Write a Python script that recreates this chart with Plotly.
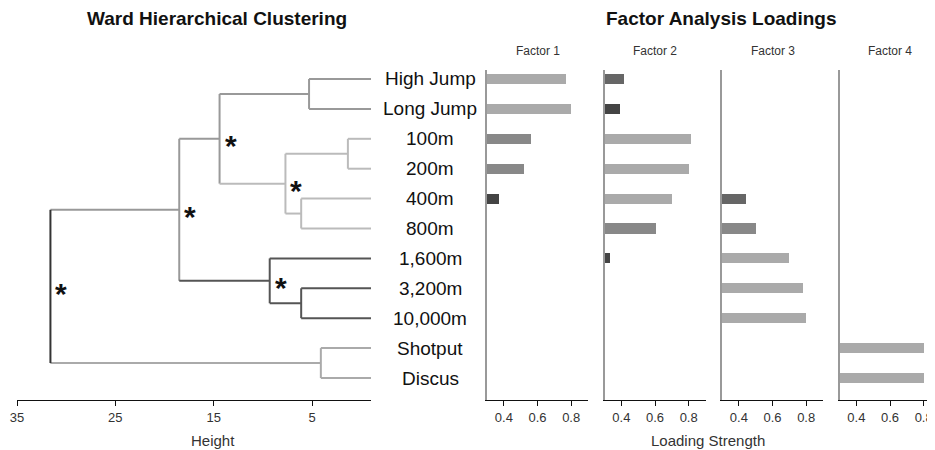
import plotly.graph_objects as go

# ---------------- data ----------------
events = ["High Jump", "Long Jump", "100m", "200m", "400m", "800m",
          "1,600m", "3,200m", "10,000m", "Shotput", "Discus"]

# Ward merges: (child_a, child_b, height); leaves are 0..10, merges numbered 11..
merge_a = [0, 2, 4, 12, 11, 7, 6, 15, 9, 18]
merge_b = [1, 3, 5, 13, 14, 8, 16, 17, 10, 19]
merge_h = [5.3, 1.35, 6.1, 7.7, 14.4, 6.1, 9.3, 18.5, 4.1, 31.6]
# merges marked significant (*)
merge_star = [False, False, False, True, True, False, True, True, False, True]

height_ticks = [35, 25, 15, 5]

factor1 = [0.77, 0.80, 0.56, 0.52, 0.37, None, None, None, None, None, None]
factor2 = [0.41, 0.39, 0.81, 0.80, 0.70, 0.60, 0.33, None, None, None, None]
factor3 = [None, None, None, None, 0.44, 0.50, 0.70, 0.78, 0.80, None, None]
factor4 = [None, None, None, None, None, None, None, None, None, 0.80, 0.80]
factor_names = ["Factor 1", "Factor 2", "Factor 3", "Factor 4"]
loading_ticks = [0.4, 0.6, 0.8]

# ---------------- styles ----------------
WIN_W = 935
OFF = 8  # page body margin: figure origin sits at (8, 8) in the window
W, H = WIN_W - OFF, 442
C_MID, C_LIGHT, C_DARK, C_THROW, C_ROOT = "#999999", "#bbbbbb", "#555555", "#aaaaaa", "#333333"
leaf_color = [C_MID, C_MID, C_LIGHT, C_LIGHT, C_LIGHT, C_LIGHT,
              C_DARK, C_DARK, C_DARK, C_THROW, C_THROW]
merge_color = [C_MID, C_LIGHT, C_LIGHT, C_LIGHT, C_MID, C_DARK, C_DARK, C_MID, C_THROW, C_ROOT]
FONT = "Liberation Sans, Arial"


def bar_color(v):
    if v >= 0.69:
        return "#aaaaaa"
    if v >= 0.5:
        return "#888888"
    if v >= 0.4:
        return "#666666"
    return "#444444"


def px_x(p):
    return min(max((p - OFF) / W, 0.0), 1.0)


def px_y(p):
    return min(max(1 - (p - OFF) / H, 0.0), 1.0)


# row i sits at window pixel 79 + 29.9*i ; plot band 70..400 px
ROW0, ROWSTEP, TOP, BOT = 79, 29.9, 70, 400
y_range = [(BOT - ROW0) / ROWSTEP, (TOP - ROW0) / ROWSTEP]
y_dom = [px_y(BOT), px_y(TOP)]
LEAF_END = -1  # leaves reach the right end of the height axis

# ---------------- dendrogram geometry ----------------
n = len(events)
node_y = list(range(n)) + [None] * len(merge_h)
node_h = [LEAF_END] * n + merge_h
node_c = leaf_color + merge_color
parent = [None] * (n + len(merge_h))
for k, (a, b) in enumerate(zip(merge_a, merge_b)):
    idx = n + k
    node_y[idx] = (node_y[a] + node_y[b]) / 2
    parent[a] = idx
    parent[b] = idx

segs = {}
for k, (a, b) in enumerate(zip(merge_a, merge_b)):
    idx = n + k
    segs.setdefault(node_c[idx], []).append(([merge_h[k], merge_h[k]], [node_y[a], node_y[b]]))
for i in range(len(node_h)):
    p = parent[i]
    if p is None:
        continue
    segs.setdefault(node_c[i], []).append(([node_h[i], node_h[p]], [node_y[i], node_y[i]]))

fig = go.Figure()
for col, lst in segs.items():
    xs, ys = [], []
    for sx, sy in lst:
        xs += sx + [None]
        ys += sy + [None]
    fig.add_trace(go.Scatter(x=xs, y=ys, mode="lines", line=dict(color=col, width=2),
                             xaxis="x", yaxis="y", showlegend=False, hoverinfo="skip"))

annotations = []
for k in range(len(merge_h)):
    if merge_star[k]:
        annotations.append(dict(x=merge_h[k], y=node_y[n + k], xref="x", yref="y", text="<b>*</b>",
                                showarrow=False, xanchor="left", yanchor="middle",
                                xshift=3, yshift=-7,
                                font=dict(size=30, color="#111111", family=FONT)))

for i, ev in enumerate(events):
    annotations.append(dict(x=px_x(430), y=i, xref="paper", yref="y", text=ev, showarrow=False,
                            xanchor="center", yanchor="middle",
                            font=dict(size=19, color="#111111", family=FONT)))

# ---------------- factor panels ----------------
factors = [factor1, factor2, factor3, factor4]
panel_left = [487, 604.5, 722, 839.5]
PANEL_W = 101
PX_PER_UNIT = PANEL_W / 0.6
layout_axes = {}
for j, vals in enumerate(factors):
    ax = j + 2
    right = min(panel_left[j] + PANEL_W, WIN_W)
    xmax = 0.3 + (right - panel_left[j]) / PX_PER_UNIT
    ys = [i for i, v in enumerate(vals) if v is not None]
    xs = [v for v in vals if v is not None]
    fig.add_trace(go.Bar(x=xs, y=ys, orientation="h", width=0.34,
                         marker=dict(color=[bar_color(v) for v in xs], line=dict(width=0)),
                         xaxis=f"x{ax}", yaxis=f"y{ax}", showlegend=False, hoverinfo="skip"))
    layout_axes[f"xaxis{ax}"] = dict(domain=[px_x(panel_left[j]), px_x(right)],
                                     anchor=f"y{ax}", range=[0.3, xmax], tickvals=loading_ticks,
                                     ticktext=[f"{t:.1f}" for t in loading_ticks],
                                     showline=True, linecolor="#111111", linewidth=1,
                                     ticks="outside", ticklen=5, tickcolor="#111111",
                                     showgrid=False, zeroline=False,
                                     tickfont=dict(size=13, color="#333333"))
    layout_axes[f"yaxis{ax}"] = dict(domain=y_dom, anchor=f"x{ax}", range=y_range,
                                     showline=True, linecolor="#999999", linewidth=1.5,
                                     showticklabels=False, ticks="", showgrid=False, zeroline=False)
    annotations.append(dict(x=px_x(panel_left[j] + PANEL_W / 2), y=px_y(51), xref="paper", yref="paper",
                            text=factor_names[j], showarrow=False, xanchor="center", yanchor="middle",
                            font=dict(size=12, color="#333333", family=FONT)))

# titles
annotations += [
    dict(x=px_x(217), y=px_y(18), xref="paper", yref="paper", text="<b>Ward Hierarchical Clustering</b>",
         showarrow=False, xanchor="center", yanchor="middle",
         font=dict(size=19, color="#111111", family=FONT)),
    dict(x=px_x(721), y=px_y(18), xref="paper", yref="paper", text="<b>Factor Analysis Loadings</b>",
         showarrow=False, xanchor="center", yanchor="middle",
         font=dict(size=19, color="#111111", family=FONT)),
    dict(x=px_x(213), y=px_y(440), xref="paper", yref="paper", text="Height",
         showarrow=False, xanchor="center", yanchor="middle",
         font=dict(size=15, color="#333333", family=FONT)),
    dict(x=px_x(708), y=px_y(440), xref="paper", yref="paper", text="Loading Strength",
         showarrow=False, xanchor="center", yanchor="middle",
         font=dict(size=15, color="#333333", family=FONT)),
]

fig.update_layout(
    width=W, height=H, margin=dict(l=0, r=0, t=0, b=0, autoexpand=False),
    paper_bgcolor="white", plot_bgcolor="white",
    font=dict(family=FONT, color="#333333"),
    bargap=0,
    xaxis=dict(domain=[px_x(17), px_x(371)], anchor="y", range=[35, LEAF_END], tickvals=height_ticks,
               showline=True, linecolor="#111111", linewidth=1, ticks="outside", ticklen=5,
               tickcolor="#111111", showgrid=False, zeroline=False,
               tickfont=dict(size=13, color="#333333")),
    yaxis=dict(domain=y_dom, anchor="x", range=y_range, visible=False),
    annotations=annotations,
    **layout_axes,
)

fig.write_html("out.html")
